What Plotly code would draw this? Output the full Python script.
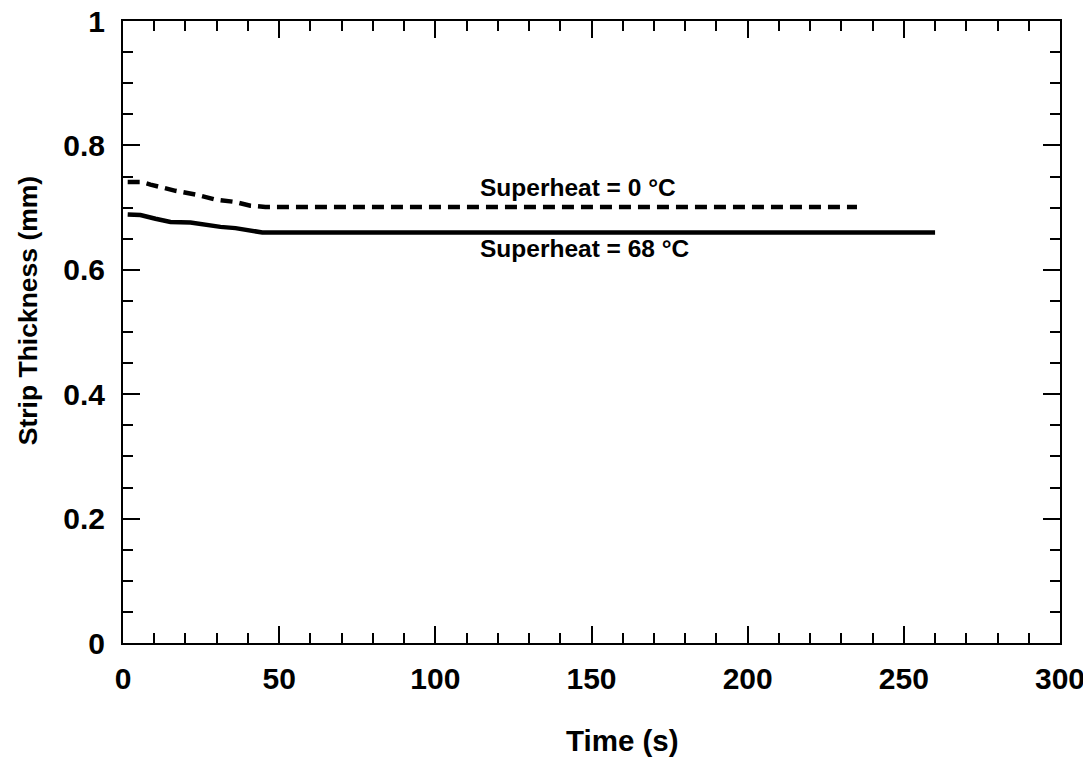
import plotly.graph_objects as go

# Data
dashed_time = [1.5, 6.0, 8.8, 16.8, 23.2, 29.6, 36.0, 40.8, 45.6, 235.0]
dashed_thick = [0.741, 0.741, 0.737, 0.727, 0.721, 0.713, 0.709, 0.703, 0.701, 0.701]

solid_time = [1.5, 5.6, 10.4, 15.2, 21.6, 26.4, 31.2, 36.0, 40.8, 44.6, 260.0]
solid_thick = [0.689, 0.688, 0.682, 0.677, 0.676, 0.672, 0.669, 0.667, 0.664, 0.660, 0.660]

x_ticks = [0, 50, 100, 150, 200, 250, 300]
x_ticktext = ["0", "50", "100", "150", "200", "250", "300"]
y_ticks = [0, 0.2, 0.4, 0.6, 0.8, 1.0]
y_ticktext = ["0", "0.2", "0.4", "0.6", "0.8", "1"]

label_top = "Superheat = 0 °C"
label_bottom = "Superheat = 68 °C"

FONT = "Liberation Sans, Arial, sans-serif"

fig = go.Figure()
fig.add_trace(go.Scatter(x=dashed_time, y=dashed_thick, mode="lines",
                         line=dict(color="black", width=4.5, dash="12px,7px"),
                         showlegend=False))
fig.add_trace(go.Scatter(x=solid_time, y=solid_thick, mode="lines",
                         line=dict(color="black", width=4.5),
                         showlegend=False))

fig.add_annotation(x=113.6, y=0.733, xref="x", yref="y", text=label_top,
                   showarrow=False, xanchor="left", yanchor="middle",
                   font=dict(family=FONT, size=24.5, color="black", weight="bold"))
fig.add_annotation(x=113.6, y=0.635, xref="x", yref="y", text=label_bottom,
                   showarrow=False, xanchor="left", yanchor="middle",
                   font=dict(family=FONT, size=24.5, color="black", weight="bold"))

# axis titles as annotations for exact placement
fig.add_annotation(x=160, y=-0.156, xref="x", yref="paper", text="Time (s)",
                   showarrow=False, xanchor="center", yanchor="middle",
                   font=dict(family=FONT, size=29.5, color="black", weight="bold"))
fig.add_annotation(x=-0.102, y=0.534, xref="paper", yref="paper",
                   text="Strip Thickness (mm)", textangle=-90,
                   showarrow=False, xanchor="center", yanchor="middle",
                   font=dict(family=FONT, size=26.5, color="black", weight="bold"))

axis_common = dict(showgrid=False, zeroline=False, showline=True, linecolor="black",
                   linewidth=2, mirror="allticks", ticks="inside", ticklen=17,
                   tickwidth=2, tickcolor="black", automargin=False,
                   ticklabeloverflow="allow",
                   tickfont=dict(family=FONT, size=30, color="black", weight="bold"))

fig.update_xaxes(range=[0, 300], tickvals=x_ticks, ticktext=x_ticktext,
                 minor=dict(dtick=10, ticks="inside", ticklen=10, tickwidth=2,
                            tickcolor="black"),
                 ticklabelstandoff=8, **axis_common)
fig.update_yaxes(range=[0, 1], tickvals=y_ticks, ticktext=y_ticktext,
                 minor=dict(dtick=0.05, ticks="inside", ticklen=10, tickwidth=2,
                            tickcolor="black"),
                 ticklabelstandoff=10, **axis_common)

# page body has an 8px default margin, so the figure is sized/offset to compensate
fig.update_layout(width=1083, height=752, plot_bgcolor="white", paper_bgcolor="white",
                  margin=dict(l=115, r=31, t=13, b=117, pad=0, autoexpand=False))

fig.write_html("out.html")
